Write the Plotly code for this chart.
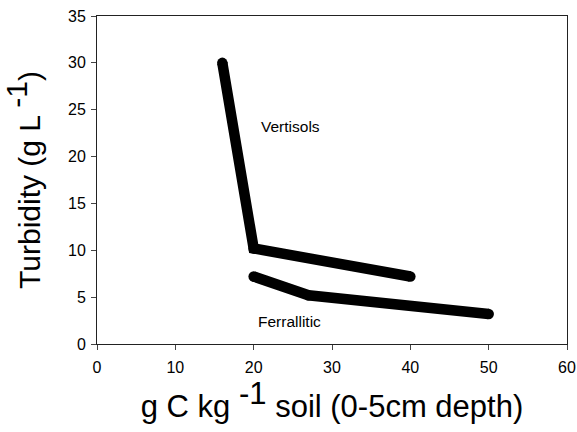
import plotly.graph_objects as go

vert_x = [16, 20, 40]
vert_y = [30, 10.2, 7.2]
ferr_x = [20, 27, 50]
ferr_y = [7.2, 5.2, 3.2]

x_ticks = [0, 10, 20, 30, 40, 50, 60]
y_ticks = [0, 5, 10, 15, 20, 25, 30, 35]

FONT = "Liberation Sans, Arial, sans-serif"
LW = 10.5

fig = go.Figure()
for xs, ys in ((vert_x, vert_y), (ferr_x, ferr_y)):
    fig.add_trace(go.Scatter(x=xs, y=ys, mode="lines+markers",
                             line=dict(color="black", width=LW),
                             marker=dict(color="black", size=LW, line=dict(width=0)),
                             showlegend=False))

fig.add_annotation(x=24.7, y=23.2, text="Vertisols", showarrow=False,
                   font=dict(family=FONT, size=15.5, color="black"))
fig.add_annotation(x=24.6, y=2.35, text="Ferrallitic", showarrow=False,
                   font=dict(family=FONT, size=15.5, color="black"))

fig.update_layout(
    width=577, height=432,
    margin=dict(l=97, r=10, t=16, b=88),
    paper_bgcolor="white", plot_bgcolor="white",
    font=dict(family=FONT, color="black"),
)
fig.update_xaxes(
    range=[0, 60], tickvals=x_ticks, ticks="outside", ticklen=5,
    showline=True, linecolor="#222", linewidth=1, mirror=True,
    showgrid=False, zeroline=False, automargin=False,
    tickfont=dict(size=16, family=FONT), ticklabelstandoff=4,
    title=dict(text="g C kg <sup><span style='font-size:31px'>-1</span></sup> soil (0-5cm depth)",
               font=dict(size=31, family=FONT), standoff=14),
)
fig.update_yaxes(
    range=[0, 35], tickvals=y_ticks, ticks="outside", ticklen=5,
    showline=True, linecolor="#222", linewidth=1, mirror=True,
    showgrid=False, zeroline=False, automargin=False,
    tickfont=dict(size=16, family=FONT), ticklabelstandoff=2,
    title=dict(text="Turbidity (g L <sup><span style='font-size:30px'>-1</span></sup>)",
               font=dict(size=30, family=FONT), standoff=20),
)

fig.write_html("out.html")
